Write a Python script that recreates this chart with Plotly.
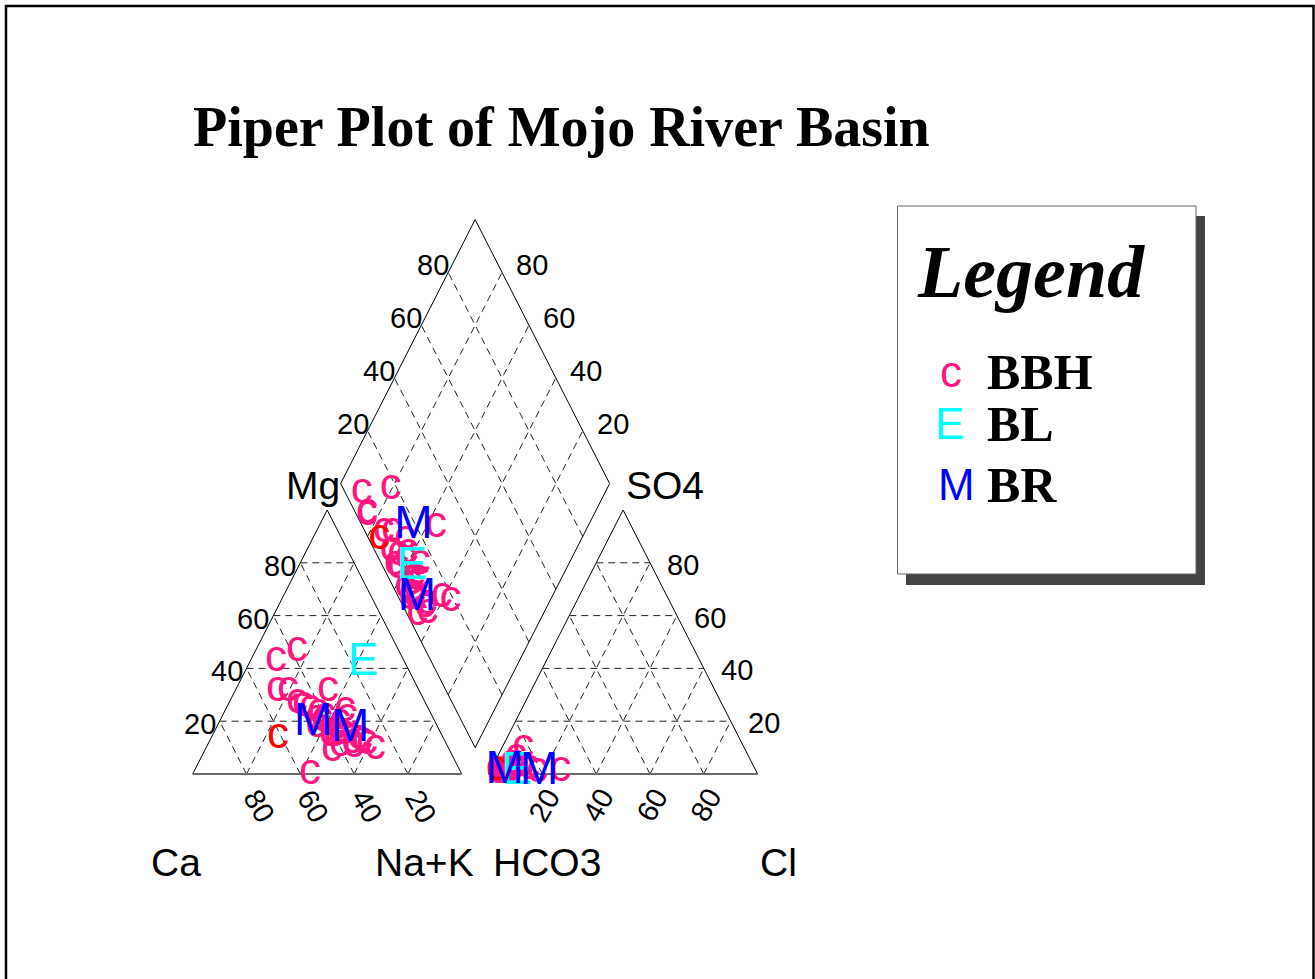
import plotly.graph_objects as go

W, H = 1315, 979

# ---- sample chemistry (percent of total meq/L) ----
# BBH samples
bbh_ca   = [47.4, 37.7, 52.8, 48.7, 33.8, 47.6, 45.9, 43.9, 41.7, 39.8, 31.3, 31.8, 43.7, 27.3, 29.4,
            56.2, 41.6, 34.7, 31.7, 39.7, 38.0, 41.7, 35.4, 36.0, 30.6, 43.5, 40.0, 37.2, 35.0, 45.0]
bbh_mg   = [43.2, 47.0, 31.8, 31.8, 31.8, 27.3, 26.1, 25.0, 23.5, 22.0, 24.2, 21.6, 9.1, 9.8, 11.7,
            0.4, 14.8, 12.1, 13.6, 11.0, 17.4, 20.5, 19.7, 15.5, 12.9, 21.2, 14.8, 16.0, 10.5, 18.0]
bbh_nak  = [9.4, 15.3, 15.4, 19.5, 34.4, 25.1, 28.0, 31.1, 34.8, 38.2, 44.5, 46.6, 47.2, 62.9, 58.9,
            43.4, 43.6, 53.2, 54.7, 49.3, 44.6, 37.8, 44.9, 48.5, 56.5, 35.3, 45.2, 46.8, 54.5, 37.0]
bbh_hco3 = [93.7, 95.6, 96.0, 82.2, 86.6, 93.0, 89.8, 94.0, 92.0, 90.0, 85.6, 95.0, 96.0, 81.3, 83.7,
            72.5, 95.6, 96.2, 90.7, 94.0, 91.0, 88.0, 90.1, 93.0, 92.0, 95.0, 92.5, 89.0, 92.0, 94.5]
bbh_so4  = [1.5, 1.0, 1.2, 9.8, 6.4, 2.0, 4.2, 1.5, 2.0, 2.5, 3.4, 1.0, 0.8, 1.2, 2.3,
            1.5, 0.9, 0.8, 2.3, 1.0, 2.0, 4.2, 2.9, 1.5, 1.6, 1.2, 1.5, 2.5, 1.0, 1.5]
bbh_cl   = [4.8, 3.4, 2.8, 8.0, 7.0, 5.0, 6.0, 4.5, 6.0, 7.5, 11.0, 4.0, 3.2, 17.5, 14.0,
            26.0, 3.5, 3.0, 7.0, 5.0, 7.0, 7.8, 7.0, 5.5, 6.4, 3.8, 6.0, 8.5, 7.0, 4.0]

# single BBH sample drawn in red
red_ca, red_mg, red_nak = [61.3], [14.0], [24.7]
red_hco3, red_so4, red_cl = [96.0], [2.0], [2.0]

# BL sample
bl_ca, bl_mg, bl_nak = [15.7], [42.0], [42.3]
bl_hco3, bl_so4, bl_cl = [89.4], [0.4], [10.2]

# BR samples
br_ca, br_mg, br_nak = [45.6, 33.1], [19.3, 16.7], [35.1, 50.2]
br_hco3, br_so4, br_cl = [81.0, 93.5], [0.5, 1.0], [18.5, 5.5]

grid_levels = [20, 40, 60, 80]
grid_labels = ["20", "40", "60", "80"]

groups = [
    dict(name="BBH", ch="c", color="#FF1480", size=44,
         cat=(bbh_ca, bbh_mg, bbh_nak), an=(bbh_hco3, bbh_so4, bbh_cl)),
    dict(name="BBH*", ch="c", color="#FF0000", size=44,
         cat=(red_ca, red_mg, red_nak), an=(red_hco3, red_so4, red_cl)),
    dict(name="BL", ch="E", color="#00FFFF", size=46,
         cat=(bl_ca, bl_mg, bl_nak), an=(bl_hco3, bl_so4, bl_cl)),
    dict(name="BR", ch="M", color="#0000FF", size=46,
         cat=(br_ca, br_mg, br_nak), an=(br_hco3, br_so4, br_cl)),
]

S = 0.8660254
GAP = 10.0
OX = 100 + GAP          # left corner of anion triangle
CX = 100 + GAP / 2      # diamond centre line
BY = GAP * S            # diamond bottom


def norm3(a, b, c):
    t = a + b + c
    return 100 * a / t, 100 * b / t, 100 * c / t


def cation_xy(ca, mg, nak):
    xs, ys = [], []
    for c_, m_, n_ in zip(ca, mg, nak):
        c_, m_, n_ = norm3(c_, m_, n_)
        xs.append(n_ + m_ / 2)
        ys.append(m_ * S)
    return xs, ys


def anion_xy(hco3, so4, cl):
    xs, ys = [], []
    for h_, s_, l_ in zip(hco3, so4, cl):
        h_, s_, l_ = norm3(h_, s_, l_)
        xs.append(OX + l_ + s_ / 2)
        ys.append(s_ * S)
    return xs, ys


def diamond_xy(cat, an):
    xs, ys = [], []
    for c_, m_, n_, h_, s_, l_ in zip(*cat, *an):
        c_, m_, n_ = norm3(c_, m_, n_)
        h_, s_, l_ = norm3(h_, s_, l_)
        a = c_ + m_
        s = s_ + l_
        xs.append(CX - 0.5 * a + 0.5 * s)
        ys.append(BY + S * (a + s))
    return xs, ys


fig = go.Figure()

# ---- dashed grid ----
gx, gy = [], []
for v in grid_levels:
    for ox in (0.0, OX):
        gx += [ox + v / 2, ox + 100 - v / 2, None]
        gy += [v * S, v * S, None]
        gx += [ox + v, ox + v + (100 - v) / 2, None]
        gy += [0, (100 - v) * S, None]
        gx += [ox + v, ox + v / 2, None]
        gy += [0, v * S, None]
    gx += [CX - 0.5 * v, CX - 0.5 * v + 50, None]
    gy += [BY + S * v, BY + S * v + 100 * S, None]
    gx += [CX + 0.5 * v, CX + 0.5 * v - 50, None]
    gy += [BY + S * v, BY + S * v + 100 * S, None]
fig.add_trace(go.Scatter(x=gx, y=gy, mode="lines", hoverinfo="skip", showlegend=False,
                         line=dict(color="#222222", width=1, dash="7px,5px")))

# ---- outlines ----
ox_, oy_ = [], []
for ox in (0.0, OX):
    ox_ += [ox, ox + 50, ox + 100, None]
    oy_ += [0, 100 * S, 0, None]
ox_ += [CX, CX - 50, CX, CX + 50, CX, None]
oy_ += [BY, BY + 100 * S, BY + 200 * S, BY + 100 * S, BY, None]
fig.add_trace(go.Scatter(x=ox_, y=oy_, mode="lines", hoverinfo="skip", showlegend=False,
                         line=dict(color="black", width=1)))
fig.add_trace(go.Scatter(x=[0, 100, None, OX, OX + 100], y=[0, 0, None, 0, 0], mode="lines",
                         hoverinfo="skip", showlegend=False,
                         line=dict(color="#6a6a6a", width=2)))

# ---- samples drawn as letters ----
for g in groups:
    px_, py_ = [], []
    for fx, fy in (cation_xy(*g["cat"]), anion_xy(*g["an"]), diamond_xy(g["cat"], g["an"])):
        px_ += fx
        py_ += fy
    fig.add_trace(go.Scatter(
        x=px_, y=py_, mode="text", text=[g["ch"]] * len(px_), name=g["name"],
        textposition="middle center", showlegend=False,
        textfont=dict(family="Liberation Sans, Arial", size=g["size"], color=g["color"])))

# ---- axis scaling (pixels per unit) ----
X0, XS = 192.7, 2.69
Y0, YS = 774.0, 3.0485
xr = [-X0 / XS, (W - X0) / XS]
yr = [-(H - Y0) / YS, Y0 / YS]

ann = []
sans = "Liberation Sans, Arial"
serif = "Liberation Serif, Times New Roman"
TICK = 29

# tick labels
for v, t in zip(grid_levels, grid_labels):
    # Mg on left edge of cation triangle
    ann.append(dict(x=v / 2, y=v * S, text=t, xanchor="right", yanchor="middle",
                    xshift=-2, yshift=-3, font=dict(family=sans, size=TICK, color="black")))
    # SO4 on right edge of anion triangle
    ann.append(dict(x=OX + 100 - v / 2, y=v * S, text=t, xanchor="left", yanchor="middle",
                    xshift=15, yshift=-2, font=dict(family=sans, size=TICK, color="black")))
    # SO4+Cl on upper-left edge of diamond
    ann.append(dict(x=CX - 50 + 0.5 * v, y=BY + 100 * S + S * v, text=t, xanchor="right",
                    yanchor="middle", xshift=3, yshift=7, font=dict(family=sans, size=TICK, color="black")))
    # Ca+Mg on upper-right edge of diamond
    ann.append(dict(x=CX + 50 - 0.5 * v, y=BY + 100 * S + S * v, text=t, xanchor="left",
                    yanchor="middle", xshift=12, yshift=7, font=dict(family=sans, size=TICK, color="black")))
    # Ca along cation base
    ann.append(dict(x=100 - v, y=0, text=t, xanchor="center", yanchor="middle", textangle=60,
                    xshift=12.7, yshift=-32, font=dict(family=sans, size=TICK, color="black")))
    # Cl along anion base
    ann.append(dict(x=OX + v, y=0, text=t, xanchor="center", yanchor="middle", textangle=-60,
                    xshift=2, yshift=-31, font=dict(family=sans, size=TICK, color="black")))


def P(x, y):
    return x / W, 1 - y / H


def ptext(x, y, text, size, family, xanchor="center", color="black"):
    px_, py_ = P(x, y)
    ann.append(dict(x=px_, y=py_, xref="paper", yref="paper", text=text, showarrow=False,
                    xanchor=xanchor, yanchor="middle",
                    font=dict(family=family, size=size, color=color)))


# corner names
ptext(312.5, 486, "Mg", 39, sans)
ptext(665, 486, "SO4", 39, sans)
ptext(176, 862, "Ca", 39, sans)
ptext(424, 862, "Na+K", 39, sans)
ptext(546.5, 862, "HCO3", 39, sans)
ptext(778, 862, "Cl", 39, sans)

# title
ptext(191, 127, "<b>Piper Plot of Mojo River Basin</b>", 56, serif, xanchor="left")

# legend panel
ptext(915, 272, "<b><i>Legend</i></b>", 74, serif, xanchor="left")
legend_rows = [(371, "c", "#FF1480", "BBH", 951), (423, "E", "#00FFFF", "BL", 949), (484, "M", "#0000FF", "BR", 956)]
for y, ch, col, lab, sx in legend_rows:
    ptext(sx, y, ch, 44, sans, color=col)
    ptext(985, y + 1, "<b>" + lab + "</b>", 50, serif, xanchor="left")

for a in ann:
    a.setdefault("showarrow", False)

shapes = [
    # legend shadow and frame
    dict(type="rect", xref="paper", yref="paper", layer="below",
         x0=906 / W, x1=1205 / W, y0=1 - 585 / H, y1=1 - 216 / H,
         fillcolor="#444444", line=dict(width=0)),
    dict(type="rect", xref="paper", yref="paper", layer="below",
         x0=897.5 / W, x1=1196 / W, y0=1 - 574 / H, y1=1 - 206 / H,
         fillcolor="white", line=dict(color="#666666", width=1)),
    # page border
    dict(type="path", xref="paper", yref="paper",
         path=f"M {6 / W} {1 - 1000 / H} L {6 / W} {1 - 6 / H} L {1313.5 / W} {1 - 6 / H} L {1313.5 / W} {1 - 1000 / H}",
         line=dict(color="black", width=2.5)),
]

fig.update_layout(
    width=W, height=H, margin=dict(l=0, r=0, t=0, b=0),
    paper_bgcolor="white", plot_bgcolor="white",
    xaxis=dict(range=xr, visible=False, fixedrange=True),
    yaxis=dict(range=yr, visible=False, fixedrange=True),
    annotations=ann, shapes=shapes, showlegend=False,
)

fig.write_html("out.html")
